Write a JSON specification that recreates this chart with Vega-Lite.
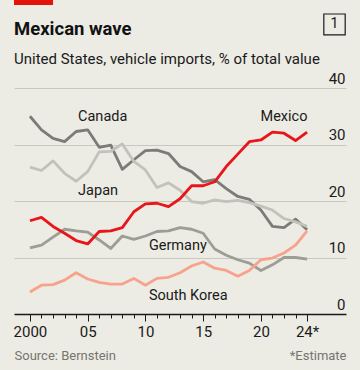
{
  "$schema": "https://vega.github.io/schema/vega-lite/v6.json",
  "width": 332,
  "height": 226,
  "autosize": {"type": "none"},
  "padding": {"left": 14, "top": 88, "right": 14, "bottom": 56},
  "background": "#ecebe4",
  "config": {"view": {"stroke": null}, "font": "Roboto"},
  "title": {
    "text": "Mexican wave",
    "subtitle": "United States, vehicle imports, % of total value",
    "anchor": "start",
    "frame": "group",
    "font": "Roboto",
    "fontSize": 18.5,
    "fontWeight": "bold",
    "color": "#121212",
    "subtitleFont": "Roboto",
    "subtitleFontSize": 15,
    "subtitleColor": "#1a1a1a",
    "subtitlePadding": 13,
    "offset": 4,
    "dy": 71
  },
  "datasets": {
    "series": [
      {"year": 2000, "country": "Canada", "value": 35.0},
      {"year": 2001, "country": "Canada", "value": 32.6},
      {"year": 2002, "country": "Canada", "value": 31.1},
      {"year": 2003, "country": "Canada", "value": 30.5},
      {"year": 2004, "country": "Canada", "value": 32.3},
      {"year": 2005, "country": "Canada", "value": 32.6},
      {"year": 2006, "country": "Canada", "value": 29.5},
      {"year": 2007, "country": "Canada", "value": 29.9},
      {"year": 2008, "country": "Canada", "value": 25.6},
      {"year": 2009, "country": "Canada", "value": 27.3},
      {"year": 2010, "country": "Canada", "value": 28.9},
      {"year": 2011, "country": "Canada", "value": 29.0},
      {"year": 2012, "country": "Canada", "value": 28.4},
      {"year": 2013, "country": "Canada", "value": 26.1},
      {"year": 2014, "country": "Canada", "value": 25.2},
      {"year": 2015, "country": "Canada", "value": 23.4},
      {"year": 2016, "country": "Canada", "value": 23.8},
      {"year": 2017, "country": "Canada", "value": 22.2},
      {"year": 2018, "country": "Canada", "value": 20.8},
      {"year": 2019, "country": "Canada", "value": 20.3},
      {"year": 2020, "country": "Canada", "value": 18.4},
      {"year": 2021, "country": "Canada", "value": 15.5},
      {"year": 2022, "country": "Canada", "value": 15.3},
      {"year": 2023, "country": "Canada", "value": 16.8},
      {"year": 2024, "country": "Canada", "value": 14.9},
      {"year": 2000, "country": "Japan", "value": 26.0},
      {"year": 2001, "country": "Japan", "value": 25.4},
      {"year": 2002, "country": "Japan", "value": 27.1},
      {"year": 2003, "country": "Japan", "value": 24.9},
      {"year": 2004, "country": "Japan", "value": 23.5},
      {"year": 2005, "country": "Japan", "value": 25.2},
      {"year": 2006, "country": "Japan", "value": 28.7},
      {"year": 2007, "country": "Japan", "value": 28.8},
      {"year": 2008, "country": "Japan", "value": 30.1},
      {"year": 2009, "country": "Japan", "value": 27.0},
      {"year": 2010, "country": "Japan", "value": 25.5},
      {"year": 2011, "country": "Japan", "value": 22.4},
      {"year": 2012, "country": "Japan", "value": 23.2},
      {"year": 2013, "country": "Japan", "value": 21.9},
      {"year": 2014, "country": "Japan", "value": 19.9},
      {"year": 2015, "country": "Japan", "value": 19.6},
      {"year": 2016, "country": "Japan", "value": 20.2},
      {"year": 2017, "country": "Japan", "value": 19.9},
      {"year": 2018, "country": "Japan", "value": 20.1},
      {"year": 2019, "country": "Japan", "value": 19.7},
      {"year": 2020, "country": "Japan", "value": 19.1},
      {"year": 2021, "country": "Japan", "value": 18.4},
      {"year": 2022, "country": "Japan", "value": 16.9},
      {"year": 2023, "country": "Japan", "value": 16.3},
      {"year": 2024, "country": "Japan", "value": 15.5},
      {"year": 2000, "country": "Germany", "value": 11.7},
      {"year": 2001, "country": "Germany", "value": 12.2},
      {"year": 2002, "country": "Germany", "value": 13.6},
      {"year": 2003, "country": "Germany", "value": 15.0},
      {"year": 2004, "country": "Germany", "value": 14.7},
      {"year": 2005, "country": "Germany", "value": 14.5},
      {"year": 2006, "country": "Germany", "value": 13.1},
      {"year": 2007, "country": "Germany", "value": 11.6},
      {"year": 2008, "country": "Germany", "value": 13.8},
      {"year": 2009, "country": "Germany", "value": 13.2},
      {"year": 2010, "country": "Germany", "value": 13.8},
      {"year": 2011, "country": "Germany", "value": 14.6},
      {"year": 2012, "country": "Germany", "value": 14.7},
      {"year": 2013, "country": "Germany", "value": 15.3},
      {"year": 2014, "country": "Germany", "value": 15.0},
      {"year": 2015, "country": "Germany", "value": 14.3},
      {"year": 2016, "country": "Germany", "value": 11.5},
      {"year": 2017, "country": "Germany", "value": 10.4},
      {"year": 2018, "country": "Germany", "value": 9.6},
      {"year": 2019, "country": "Germany", "value": 9.0},
      {"year": 2020, "country": "Germany", "value": 7.7},
      {"year": 2021, "country": "Germany", "value": 8.7},
      {"year": 2022, "country": "Germany", "value": 10.0},
      {"year": 2023, "country": "Germany", "value": 10.0},
      {"year": 2024, "country": "Germany", "value": 9.7},
      {"year": 2000, "country": "South Korea", "value": 3.9},
      {"year": 2001, "country": "South Korea", "value": 5.1},
      {"year": 2002, "country": "South Korea", "value": 5.2},
      {"year": 2003, "country": "South Korea", "value": 6.0},
      {"year": 2004, "country": "South Korea", "value": 7.3},
      {"year": 2005, "country": "South Korea", "value": 6.2},
      {"year": 2006, "country": "South Korea", "value": 5.6},
      {"year": 2007, "country": "South Korea", "value": 5.3},
      {"year": 2008, "country": "South Korea", "value": 5.3},
      {"year": 2009, "country": "South Korea", "value": 6.3},
      {"year": 2010, "country": "South Korea", "value": 5.1},
      {"year": 2011, "country": "South Korea", "value": 6.3},
      {"year": 2012, "country": "South Korea", "value": 6.5},
      {"year": 2013, "country": "South Korea", "value": 7.3},
      {"year": 2014, "country": "South Korea", "value": 8.5},
      {"year": 2015, "country": "South Korea", "value": 9.2},
      {"year": 2016, "country": "South Korea", "value": 8.1},
      {"year": 2017, "country": "South Korea", "value": 7.7},
      {"year": 2018, "country": "South Korea", "value": 6.7},
      {"year": 2019, "country": "South Korea", "value": 7.7},
      {"year": 2020, "country": "South Korea", "value": 9.6},
      {"year": 2021, "country": "South Korea", "value": 9.9},
      {"year": 2022, "country": "South Korea", "value": 10.8},
      {"year": 2023, "country": "South Korea", "value": 12.2},
      {"year": 2024, "country": "South Korea", "value": 14.7},
      {"year": 2000, "country": "Mexico", "value": 16.5},
      {"year": 2001, "country": "Mexico", "value": 17.1},
      {"year": 2002, "country": "Mexico", "value": 15.5},
      {"year": 2003, "country": "Mexico", "value": 14.3},
      {"year": 2004, "country": "Mexico", "value": 13.0},
      {"year": 2005, "country": "Mexico", "value": 12.4},
      {"year": 2006, "country": "Mexico", "value": 14.6},
      {"year": 2007, "country": "Mexico", "value": 14.7},
      {"year": 2008, "country": "Mexico", "value": 15.3},
      {"year": 2009, "country": "Mexico", "value": 18.1},
      {"year": 2010, "country": "Mexico", "value": 19.5},
      {"year": 2011, "country": "Mexico", "value": 19.6},
      {"year": 2012, "country": "Mexico", "value": 19.0},
      {"year": 2013, "country": "Mexico", "value": 20.4},
      {"year": 2014, "country": "Mexico", "value": 22.7},
      {"year": 2015, "country": "Mexico", "value": 22.7},
      {"year": 2016, "country": "Mexico", "value": 23.4},
      {"year": 2017, "country": "Mexico", "value": 26.1},
      {"year": 2018, "country": "Mexico", "value": 28.3},
      {"year": 2019, "country": "Mexico", "value": 30.5},
      {"year": 2020, "country": "Mexico", "value": 30.8},
      {"year": 2021, "country": "Mexico", "value": 32.2},
      {"year": 2022, "country": "Mexico", "value": 32.0},
      {"year": 2023, "country": "Mexico", "value": 30.7},
      {"year": 2024, "country": "Mexico", "value": 32.2}
    ],
    "labels": [
      {"country": "Canada", "year": 2006.3, "value": 34.9, "side": "center"},
      {"country": "Japan", "year": 2005.9, "value": 21.8, "side": "center"},
      {"country": "Mexico", "year": 2022.0, "value": 34.9, "side": "center"},
      {"country": "Germany", "year": 2010.3, "value": 12.0, "side": "left"},
      {"country": "South Korea", "year": 2010.3, "value": 3.1, "side": "left"}
    ],
    "single": [{}]
  },
  "layer": [
    {
      "data": {"name": "series"},
      "mark": {"type": "line", "strokeWidth": 2.8, "strokeJoin": "round", "strokeCap": "butt"},
      "encoding": {
        "x": {
          "field": "year", "type": "quantitative",
          "scale": {"domain": [1998.62, 2027.37], "nice": false, "zero": false},
          "axis": {
            "orient": "bottom",
            "values": [2000,2001,2002,2003,2004,2005,2006,2007,2008,2009,2010,2011,2012,2013,2014,2015,2016,2017,2018,2019,2020,2021,2022,2023,2024],
            "labels": false, "grid": false,
            "tickSize": 4, "tickColor": "#1a1a1a", "tickWidth": 1,
            "domain": true, "domainColor": "#1a1a1a", "domainWidth": 1.5,
            "title": "Source: Bernstein",
            "titleFont": "Roboto", "titleFontSize": 13, "titleFontWeight": "normal", "titleColor": "#76766f",
            "titleAlign": "left", "titleAnchor": "start", "titleBaseline": "alphabetic",
            "titleX": 0, "titleY": 45
          }
        },
        "y": {
          "field": "value", "type": "quantitative",
          "scale": {"domain": [0, 40], "nice": false},
          "axis": {
            "orient": "right",
            "values": [0, 10, 20, 30, 40],
            "grid": true, "gridColor": "#c9c8c0", "gridWidth": 1,
            "domain": false, "ticks": false, "tickSize": 0,
            "labelAlign": "right", "labelBaseline": "alphabetic",
            "labelPadding": -1, "labelOffset": -5, "labelFlush": false,
            "labelFont": "Roboto", "labelFontSize": 15, "labelColor": "#1a1a1a",
            "title": null
          }
        },
        "color": {
          "field": "country", "type": "nominal", "legend": null,
          "scale": {
            "domain": ["Canada", "Japan", "Germany", "South Korea", "Mexico"],
            "range": ["#7c7c76", "#c2c2ba", "#9d9d96", "#f7a38c", "#e8161b"]
          }
        }
      }
    },
    {
      "data": {"name": "labels"},
      "transform": [{"filter": "datum.side == 'center'"}],
      "mark": {"type": "text", "align": "center", "baseline": "middle", "font": "Roboto", "fontSize": 14.5, "color": "#1a1a1a"},
      "encoding": {
        "x": {
          "field": "year", "type": "quantitative",
          "axis": {
            "orient": "bottom",
            "values": [2000, 2005, 2010, 2015, 2020, 2024],
            "format": "d",
            "labelExpr": "datum.value == 2000 ? '2000' : datum.value == 2024 ? '24*' : slice(datum.label, 2)",
            "labelFont": "Roboto", "labelFontSize": 15, "labelColor": "#1a1a1a",
            "labelPadding": 3, "labelFlush": false, "labelOverlap": false,
            "tickSize": 7, "tickColor": "#1a1a1a", "tickWidth": 1,
            "domain": false, "grid": false,
            "title": "*Estimate",
            "titleFont": "Roboto", "titleFontSize": 13, "titleFontWeight": "normal", "titleColor": "#76766f",
            "titleAlign": "right", "titleAnchor": "end", "titleBaseline": "alphabetic",
            "titleX": 332, "titleY": 45
          }
        },
        "y": {"field": "value", "type": "quantitative"},
        "text": {"field": "country"}
      }
    },
    {
      "data": {"name": "labels"},
      "transform": [{"filter": "datum.side == 'left'"}],
      "mark": {"type": "text", "align": "left", "baseline": "middle", "font": "Roboto", "fontSize": 14.5, "color": "#1a1a1a"},
      "encoding": {
        "x": {"field": "year", "type": "quantitative", "axis": null},
        "y": {"field": "value", "type": "quantitative"},
        "text": {"field": "country"}
      }
    },
    {
      "data": {"name": "single"},
      "mark": {"type": "rect", "color": "#e3120b"},
      "encoding": {
        "x": {"datum": 1998.62, "type": "quantitative", "axis": null},
        "x2": {"datum": 2002.0},
        "y": {"datum": 55.6, "type": "quantitative"},
        "y2": {"datum": 54.7}
      }
    },
    {
      "data": {"name": "single"},
      "mark": {"type": "rect", "fill": null, "filled": false, "stroke": "#1a1a1a", "strokeWidth": 1.2},
      "encoding": {
        "x": {"datum": 2025.45, "type": "quantitative", "axis": null},
        "x2": {"datum": 2027.3},
        "y": {"datum": 53.1, "type": "quantitative"},
        "y2": {"datum": 49.4}
      }
    },
    {
      "data": {"name": "single"},
      "mark": {"type": "text", "text": "1", "align": "center", "baseline": "middle", "font": "Roboto", "fontSize": 14, "color": "#1a1a1a"},
      "encoding": {
        "x": {"datum": 2026.37, "type": "quantitative", "axis": null},
        "y": {"datum": 51.25, "type": "quantitative"}
      }
    }
  ],
  "resolve": {"axis": {"x": "independent"}}
}
